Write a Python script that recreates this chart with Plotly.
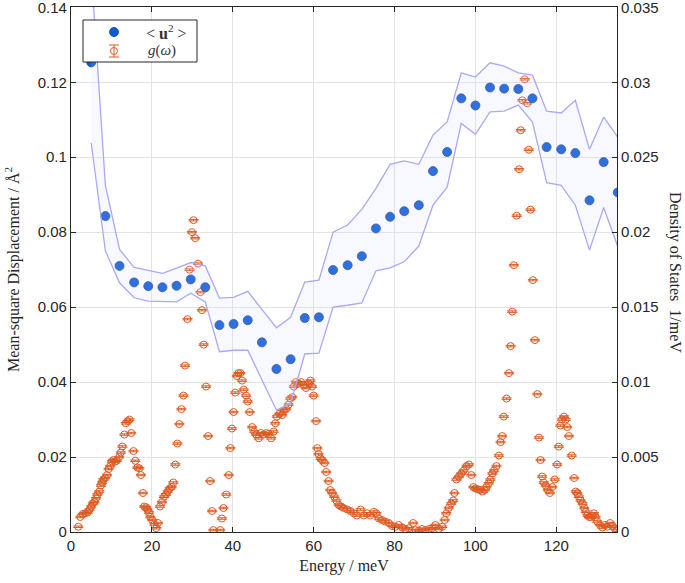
import plotly.graph_objects as go

# Mean-square displacement <u^2> (left axis)
u_energy = [5.0, 8.5, 12.0, 15.6, 19.1, 22.6, 26.1, 29.6, 33.2, 36.7, 40.2, 43.7, 47.2,
            50.8, 54.3, 57.8, 61.3, 64.8, 68.4, 71.9, 75.4, 78.9, 82.4, 86.0, 89.5, 93.0,
            96.5, 100.0, 103.6, 107.1, 110.6, 114.1, 117.6, 121.2, 124.7, 128.2, 131.7, 135.2]
u2 = [0.1253, 0.0843, 0.0710, 0.0666, 0.0656, 0.0653, 0.0657, 0.0674, 0.0653, 0.0552,
      0.0555, 0.0565, 0.0506, 0.0435, 0.0461, 0.0571, 0.0573, 0.0699, 0.0712, 0.0736,
      0.0810, 0.0841, 0.0856, 0.0872, 0.0963, 0.1014, 0.1157, 0.1138, 0.1186, 0.1183,
      0.1182, 0.1157, 0.1027, 0.1021, 0.1011, 0.0885, 0.0987, 0.0906]
u2_upper = [0.1500, 0.0925, 0.0754, 0.0706, 0.0698, 0.0690, 0.0704, 0.0719, 0.0710, 0.0624,
            0.0626, 0.0642, 0.0594, 0.0545, 0.0573, 0.0667, 0.0672, 0.0800, 0.0819, 0.0861,
            0.0917, 0.0981, 0.0990, 0.0981, 0.1059, 0.1094, 0.1225, 0.1214, 0.1252, 0.1243,
            0.1225, 0.1219, 0.1123, 0.1118, 0.1152, 0.1021, 0.1107, 0.1053]
u2_lower = [0.1038, 0.0750, 0.0665, 0.0625, 0.0616, 0.0616, 0.0614, 0.0637, 0.0614, 0.0481,
            0.0485, 0.0485, 0.0405, 0.0325, 0.0343, 0.0475, 0.0477, 0.0600, 0.0605, 0.0611,
            0.0697, 0.0705, 0.0721, 0.0763, 0.0872, 0.0920, 0.1090, 0.1061, 0.1121, 0.1123,
            0.1139, 0.1094, 0.0932, 0.0925, 0.0872, 0.0752, 0.0866, 0.0761]

# Density of states g(omega) (right axis)
g_energy = [1.8, 2.3, 2.9, 3.5, 4.1, 4.6, 5.0, 5.4, 5.8, 6.2, 6.5, 7.0, 7.4, 7.7, 8.0, 8.4,
            8.9, 9.3, 9.7, 10.1, 10.5, 10.9, 11.3, 11.9, 12.3, 12.7, 13.2, 13.55, 14.05, 14.45,
            14.9, 15.45, 15.9, 16.4, 16.9, 17.3, 17.8, 18.1, 18.6, 18.9, 19.3, 19.6, 20.1, 20.6,
            21.1, 21.5, 22.0, 22.5, 23.0, 23.5, 23.9, 24.4, 24.9, 25.3, 25.8, 26.3, 26.8, 27.3,
            27.8, 28.2, 28.8, 29.3, 29.9, 30.3, 30.7, 31.4, 32.0, 32.4, 32.8, 33.4, 33.9, 34.4,
            34.9, 35.2, 36.9, 37.3, 37.7, 38.4, 39.0, 39.4, 39.8, 40.2, 40.6, 41.0, 41.4, 41.9,
            42.3, 42.7, 43.3, 43.7, 44.2, 44.8, 45.3, 45.8, 46.4, 47.0, 47.6, 48.3, 48.9, 49.5,
            50.1, 50.5, 50.9, 51.6, 52.2, 52.6, 53.2, 53.8, 54.2, 54.7, 55.1, 55.6, 56.3, 56.9,
            57.5, 58.1, 58.8, 59.2, 59.6, 60.0, 60.6, 60.9, 61.2, 61.7, 62.1, 62.7, 63.1, 63.7,
            64.1, 64.6, 65.1, 65.6, 66.2, 66.8, 67.4, 68.3, 69.1, 69.9, 70.7, 71.6, 72.4, 73.2,
            74.0, 74.9, 75.5, 76.1, 76.9, 77.7, 78.6, 79.4, 80.2, 81.0, 81.9, 82.7, 83.5, 84.6,
            85.2, 86.0, 86.8, 87.6, 88.5, 89.3, 90.1, 90.9, 91.8, 92.4, 92.8, 93.4, 94.0, 94.5,
            94.8, 95.3, 95.9, 96.5, 97.1, 97.8, 98.4, 99.0, 99.5, 100.0, 100.6, 101.1, 101.7,
            102.3, 102.7, 103.3, 103.7, 104.2, 104.6, 105.2, 105.8, 106.2, 106.6, 107.0, 107.7,
            108.3, 108.7, 109.1, 109.5, 110.2, 110.8, 111.2, 111.6, 112.2, 112.8, 113.2, 113.6,
            114.2, 114.7, 115.3, 115.7, 116.1, 116.5, 116.9, 117.4, 117.9, 118.4, 119.0, 119.6,
            120.2, 120.6, 121.0, 121.4, 121.9, 122.3, 122.7, 123.1, 123.8, 124.4, 124.8, 125.2,
            125.6, 126.0, 126.5, 126.9, 127.3, 127.7, 128.1, 128.5, 128.9, 129.3, 129.7, 130.1,
            130.8, 131.4, 132.0, 132.6, 133.3, 133.9, 134.4, 135.0]
g_dos = [0.00035, 0.0010, 0.0012, 0.00125, 0.0013, 0.0015, 0.0017, 0.0019, 0.0020, 0.00225,
         0.0025, 0.0027, 0.0031, 0.0033, 0.0035, 0.0036, 0.0038, 0.0042, 0.0044, 0.0047,
         0.0048, 0.0047, 0.00475, 0.0050, 0.0053, 0.0057, 0.0065, 0.00725, 0.0074, 0.0075,
         0.0066, 0.0054, 0.00475, 0.0043, 0.00425, 0.0038, 0.0026, 0.0017, 0.00165, 0.0015,
         0.0013, 0.0010, 0.0008, 0.0005, 0.00025, 0.0006, 0.0017, 0.0020, 0.00235, 0.0025,
         0.0027, 0.0029, 0.0030, 0.0033, 0.0045, 0.0059, 0.0072, 0.0082, 0.0091, 0.0111,
         0.0142, 0.0175, 0.0200, 0.0208, 0.0196, 0.0179, 0.0160, 0.0148, 0.0125, 0.0097,
         0.0064, 0.0034, 0.0014, 0.00013, 0.00013, 0.0009, 0.0016, 0.0025, 0.0038, 0.0056,
         0.0069, 0.0080, 0.0093, 0.0104, 0.0106, 0.0106, 0.0101, 0.0095, 0.0091, 0.0087,
         0.0080, 0.0070, 0.0067, 0.0065, 0.00625, 0.0066, 0.0065, 0.0066, 0.00655, 0.00625,
         0.0067, 0.00725, 0.0077, 0.0079, 0.0078, 0.0081, 0.0082, 0.0085, 0.0089, 0.0090,
         0.0097, 0.0100, 0.0099, 0.0100, 0.0098, 0.0096, 0.0099, 0.0101, 0.0097, 0.0091,
         0.0074, 0.0056, 0.0052, 0.0049, 0.0048, 0.0046, 0.0040, 0.0034, 0.0028, 0.0026,
         0.00235, 0.0021, 0.0018, 0.0017, 0.0016, 0.0015, 0.0014, 0.00125, 0.0011, 0.0015,
         0.0011, 0.00125, 0.0011, 0.00135, 0.00125, 0.0009, 0.0008, 0.0007, 0.0006, 0.0004,
         0.00035, 0.00047, 0.0003, 0.0002, 0.00025, 0.0006, 0.00013, 0.0001, 0.0002, 0.00013,
         0.0002, 0.00025, 0.00047, 0.0002, 0.00035, 0.0008, 0.00125, 0.0016, 0.0019, 0.0021,
         0.0026, 0.0035, 0.0037, 0.0039, 0.0041, 0.0044, 0.0045, 0.0038, 0.0030, 0.0029,
         0.00285, 0.0028, 0.0027, 0.0028, 0.0030, 0.00325, 0.0035, 0.0039, 0.0041, 0.0044,
         0.0051, 0.0060, 0.0064, 0.0077, 0.0089, 0.0106, 0.0124, 0.0147, 0.0178, 0.0211,
         0.0242, 0.0268, 0.0288, 0.0302, 0.0286, 0.0255, 0.0215, 0.0168, 0.0128, 0.0092,
         0.0063, 0.0048, 0.0037, 0.0033, 0.0031, 0.0028, 0.0026, 0.0030, 0.0035, 0.0045,
         0.0057, 0.0071, 0.0075, 0.0077, 0.0075, 0.0070, 0.0064, 0.0051, 0.0036, 0.0027,
         0.0026, 0.00235, 0.0021, 0.0019, 0.0016, 0.00135, 0.0011, 0.0010, 0.0010, 0.0011,
         0.00125, 0.0010, 0.0007, 0.00047, 0.0003, 0.00047, 0.00035, 0.0006, 0.0004, 0.00025,
         0.0001]
g_err = [0.00005] * len(g_dos)

x_ticks = [0, 20, 40, 60, 80, 100, 120]
y_left_ticks = [0, 0.02, 0.04, 0.06, 0.08, 0.1, 0.12, 0.14]
y_left_labels = ["0", "0.02", "0.04", "0.06", "0.08", "0.1", "0.12", "0.14"]
y_right_ticks = [0, 0.005, 0.01, 0.015, 0.02, 0.025, 0.03, 0.035]
y_right_labels = ["0", "0.005", "0.01", "0.015", "0.02", "0.025", "0.03", "0.035"]
legend_labels = ["&lt; <b>u</b><sup>2</sup> &gt;", "<i>g</i>(<i>ω</i>)"]

ORANGE = "#DE5A22"
BLUE = "#0A5AD8"
BLUE_EDGE = "#1A3F9A"
BAND_LINE = "#A9A9F5"
AXIS = "#262626"
GRID = "#E3E3E3"
SERIF = "Liberation Serif, DejaVu Serif, serif"
SANS = "Liberation Sans, Arial, sans-serif"

W, H = 685, 583
ML, MR, MT, MB = 71, 68, 7, 51
PW, PH = W - ML - MR, H - MT - MB


def px(x):
    return (x - ML) / PW


def py(y):
    return (H - MB - y) / PH


fig = go.Figure()

# band + <u^2> on the left-hand (overlaying) axis
fig.add_trace(go.Scatter(
    x=u_energy, y=u2, mode="markers", name=legend_labels[0],
    marker=dict(symbol="circle", size=9, color=BLUE, line=dict(width=0.8, color=BLUE_EDGE)),
    xaxis="x", yaxis="y2",
))
fig.add_trace(go.Scatter(
    x=u_energy, y=u2_lower, mode="lines", line=dict(color=BAND_LINE, width=1.3),
    hoverinfo="skip", xaxis="x", yaxis="y2",
))
fig.add_trace(go.Scatter(
    x=u_energy, y=u2_upper, mode="lines", line=dict(color=BAND_LINE, width=1.3),
    fill="tonexty", fillcolor="rgba(215,215,255,0.18)",
    hoverinfo="skip", xaxis="x", yaxis="y2",
))

# g(omega) on the right-hand (base) axis
fig.add_trace(go.Scatter(
    x=g_energy, y=g_dos, mode="markers", name=legend_labels[1],
    marker=dict(symbol="circle-open", size=7, color=ORANGE, line=dict(width=1, color=ORANGE)),
    error_y=dict(type="data", array=g_err, visible=True, color=ORANGE, thickness=1, width=5),
    xaxis="x", yaxis="y",
))

# hand-drawn legend box (MATLAB style)
lx, ly1, ly2 = 114, 32, 51
shapes = [
    dict(type="rect", xref="paper", yref="paper", x0=px(83), x1=px(197), y0=py(62), y1=py(20),
         fillcolor="white", line=dict(color=AXIS, width=1), layer="above"),
    dict(type="circle", xref="paper", yref="paper", xsizemode="pixel", ysizemode="pixel",
         xanchor=px(lx), yanchor=py(ly1), x0=-4.5, x1=4.5, y0=-4.5, y1=4.5,
         fillcolor=BLUE, line=dict(color=BLUE_EDGE, width=0.8), layer="above"),
    dict(type="circle", xref="paper", yref="paper", xsizemode="pixel", ysizemode="pixel",
         xanchor=px(lx), yanchor=py(ly2), x0=-3.5, x1=3.5, y0=-3.5, y1=3.5,
         line=dict(color=ORANGE, width=1), layer="above"),
    dict(type="line", xref="paper", yref="paper", xsizemode="pixel", ysizemode="pixel",
         xanchor=px(lx), yanchor=py(ly2), x0=0, x1=0, y0=-6, y1=6,
         line=dict(color=ORANGE, width=1), layer="above"),
    dict(type="line", xref="paper", yref="paper", xsizemode="pixel", ysizemode="pixel",
         xanchor=px(lx), yanchor=py(ly2), x0=-5, x1=5, y0=6, y1=6,
         line=dict(color=ORANGE, width=1), layer="above"),
    dict(type="line", xref="paper", yref="paper", xsizemode="pixel", ysizemode="pixel",
         xanchor=px(lx), yanchor=py(ly2), x0=-5, x1=5, y0=-6, y1=-6,
         line=dict(color=ORANGE, width=1), layer="above"),
]

annotations = [
    dict(text=legend_labels[0], xref="paper", yref="paper", x=px(144), y=py(ly1),
         xanchor="left", yanchor="middle", showarrow=False,
         font=dict(family=SERIF, size=16, color="#333333")),
    dict(text=legend_labels[1], xref="paper", yref="paper", x=px(146), y=py(ly2),
         xanchor="left", yanchor="middle", showarrow=False,
         font=dict(family=SERIF, size=15, color="#333333")),
    dict(text="Density of States  1/meV", xref="paper", yref="paper",
         x=px(675), y=py(272), xanchor="center", yanchor="middle", textangle=90, showarrow=False,
         font=dict(family=SERIF, size=16, color=AXIS)),
]

fig.update_layout(
    width=W, height=H,
    margin=dict(l=ML, r=MR, t=MT, b=MB, autoexpand=False),
    paper_bgcolor="white", plot_bgcolor="white",
    showlegend=False,
    shapes=shapes,
    annotations=annotations,
    xaxis=dict(
        range=[0, 135], tickvals=x_ticks, ticks="inside", ticklen=5, tickcolor=AXIS,
        showline=True, linecolor=AXIS, linewidth=1.2, mirror="ticks",
        showgrid=True, gridcolor=GRID, gridwidth=1, zeroline=False, automargin=False,
        tickfont=dict(family=SANS, size=15, color=AXIS),
        title=dict(text="Energy / meV", font=dict(family=SERIF, size=16, color=AXIS), standoff=6),
    ),
    yaxis=dict(
        side="right", range=[0, 0.03502], tickvals=y_right_ticks, ticktext=y_right_labels,
        ticks="inside", ticklen=5, tickcolor=AXIS, ticklabeloverflow="allow",
        showline=True, linecolor=AXIS, linewidth=1.2,
        showgrid=False, zeroline=False, automargin=False,
        tickfont=dict(family=SANS, size=15, color=AXIS),
    ),
    yaxis2=dict(
        overlaying="y", side="left", range=[0, 0.14008], tickvals=y_left_ticks, ticktext=y_left_labels,
        ticks="inside", ticklen=5, tickcolor=AXIS, ticklabeloverflow="allow",
        showline=True, linecolor=AXIS, linewidth=1.2,
        showgrid=True, gridcolor=GRID, gridwidth=1, zeroline=False, automargin=False,
        tickfont=dict(family=SANS, size=15, color=AXIS),
        title=dict(text="Mean-square Displacement / Å<sup>2</sup>",
                   font=dict(family=SERIF, size=16, color=AXIS), standoff=14),
    ),
)

fig.write_html("out.html", config={"displayModeBar": False},
               post_script="document.body.style.margin='0px';")
